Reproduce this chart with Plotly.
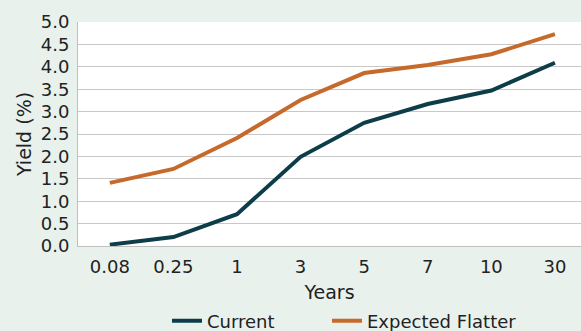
import plotly.graph_objects as go

# Yield curve: current vs. expected flatter scenario
years = ["0.08", "0.25", "1", "3", "5", "7", "10", "30"]
current = [0.03, 0.20, 0.71, 1.99, 2.75, 3.17, 3.47, 4.09]
expected_flatter = [1.41, 1.72, 2.41, 3.26, 3.86, 4.04, 4.28, 4.73]
y_ticks = [0.0, 0.5, 1.0, 1.5, 2.0, 2.5, 3.0, 3.5, 4.0, 4.5, 5.0]

BG = "#e9f1ed"
FONT = "DejaVu Sans"
FS = 18
TITLE_FS = 19

fig = go.Figure()
fig.add_trace(go.Scatter(
    x=years, y=current, name="Current", mode="lines",
    line=dict(color="#0e3d4a", width=4), legend="legend",
))
fig.add_trace(go.Scatter(
    x=years, y=expected_flatter, name="Expected Flatter", mode="lines",
    line=dict(color="#c66a2c", width=4), legend="legend2",
))

legend_style = dict(
    orientation="h", xref="container", yref="container",
    xanchor="left", y=0.03, yanchor="middle",
    font=dict(size=FS), bgcolor="rgba(0,0,0,0)",
)

fig.update_layout(
    width=581, height=331,
    margin=dict(l=78, r=0, t=22, b=85, autoexpand=False),
    paper_bgcolor=BG, plot_bgcolor="white",
    font=dict(family=FONT, size=FS, color="#222222"),
    showlegend=True,
    legend=dict(x=0.2874, **legend_style),
    legend2=dict(x=0.5628, **legend_style),
    xaxis=dict(
        type="category", range=[-0.5, 7.41],
        showgrid=False, showline=True, linecolor="#bfbfbf", linewidth=1,
        ticks="", tickfont=dict(size=FS), ticklabelstandoff=4,
        title=dict(text="Years", font=dict(size=TITLE_FS), standoff=19),
    ),
    yaxis=dict(
        range=[0, 5.0], tickvals=y_ticks,
        ticktext=[f"{v:.1f}" for v in y_ticks],
        showgrid=True, gridcolor="#c8c8c8", gridwidth=1,
        showline=True, linecolor="#bfbfbf", linewidth=1,
        zeroline=False, ticks="", tickfont=dict(size=FS), ticklabelstandoff=4,
        title=dict(text="Yield (%)", font=dict(size=TITLE_FS), standoff=4),
    ),
)

fig.write_html("out.html")
